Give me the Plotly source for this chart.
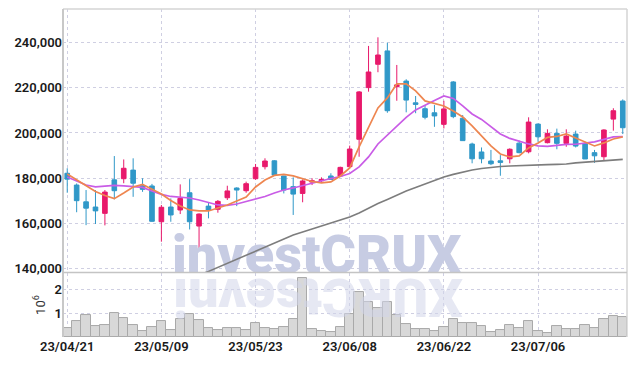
import plotly.graph_objects as go

dates = ["23/04/21","23/04/24","23/04/25","23/04/26","23/04/27","23/04/28",
         "23/05/02","23/05/03","23/05/04","23/05/08","23/05/09",
         "23/05/10","23/05/11","23/05/12","23/05/15","23/05/16","23/05/17","23/05/18","23/05/19","23/05/22","23/05/23",
         "23/05/24","23/05/25","23/05/26","23/05/30","23/05/31",
         "23/06/01","23/06/02","23/06/05","23/06/07","23/06/08",
         "23/06/09","23/06/12","23/06/13","23/06/14","23/06/15","23/06/16","23/06/19","23/06/20","23/06/21","23/06/22",
         "23/06/23","23/06/26","23/06/27","23/06/28","23/06/29","23/06/30",
         "23/07/03","23/07/04","23/07/05","23/07/06",
         "23/07/07","23/07/10","23/07/11","23/07/12","23/07/13","23/07/14","23/07/17","23/07/18","23/07/19"]

open_ = [182200,177000,169600,167300,164500,179300,179800,183600,176700,176600,
         160800,167300,166000,173600,158900,167700,166300,171400,175700,174500,
         179800,185100,187700,181000,176300,173300,178300,178900,181000,181000,
         185100,197200,220000,230300,236200,220400,222900,213300,210700,208900,
         203800,222500,206500,195100,191600,187600,187700,188600,195500,191700,
         203900,195700,199800,195400,199500,195400,191300,189500,206100,214100]
high = [184400,177700,174800,174800,174800,189800,188300,188800,180000,177500,
        168200,171100,177300,179600,164500,169500,170400,176700,176000,178500,
        186300,188800,188000,181000,180400,179500,180000,180400,182200,185100,
        194400,218500,238400,242200,239800,230000,223700,216300,212300,212300,
        214200,222900,207900,195700,193600,192500,190200,193200,196600,206900,
        204200,201600,201900,201600,201000,196100,192500,201600,210900,214800]
low = [173600,165000,159300,159800,159200,170700,177800,171800,174000,160700,
       152000,160800,164200,157400,149100,162300,164800,170400,167700,173600,
       179300,183900,181000,173300,163800,169400,177000,178000,179300,180700,
       184400,189500,218200,226800,208900,214200,209100,208700,206000,202700,
       202000,206500,196600,186600,186600,185800,181100,186600,191000,191000,
       196100,195400,192800,193900,193600,188500,186800,187600,201000,199500]
close = [179600,170100,166800,165600,173900,174500,184400,177800,175100,161000,
         167200,163800,171100,160800,164200,165800,169800,174400,174800,177600,
         184800,187600,181400,174800,173000,178800,178900,179500,179500,184800,
         192900,218100,226900,234400,209800,221200,214500,212600,206900,207500,
         210600,207200,196600,188600,188600,186400,187000,192800,191300,204800,
         198300,199800,195400,198600,194200,188500,189900,201300,209800,202300]

ma_short = [181900,179250,176600,174170,172400,171000,173510,176160,177260,175280,
            173070,170200,167770,166000,165560,165560,166890,168210,169980,171740,
            176160,179250,181240,181680,181020,179910,178590,177920,178370,181020,
            184550,193820,202650,211040,215450,221630,221630,218540,214130,213020,
            211920,209710,207060,203090,198670,194260,190730,189400,189850,193380,
            195590,198010,198450,199560,197790,196030,194260,195590,197350,198230]
ma_mid = [180570,178810,177040,176160,176380,176820,176600,176380,175940,174390,
          172850,171960,171740,171300,170420,169320,168210,167990,168650,169760,
          170860,171960,173510,174830,175720,176820,177920,178810,179910,180790,
          182120,184990,189400,195140,199120,203310,206840,210150,212360,214350,
          216340,215230,211920,208390,205960,202650,199560,197570,196250,195140,
          194260,194040,194480,194920,195010,195360,196030,197130,198230,198370]
ma_long = [None,None,None,None,None,None,None,None,None,None,
           None,None,None,135000,137300,138900,140660,142340,144100,146100,
           147860,149620,151390,153150,154920,156250,157570,158900,160220,161320,
           162870,164640,166840,168830,170600,172580,174350,175890,177440,178760,
           180530,181720,182740,183620,184280,184800,185160,185380,185600,185740,
           185830,186000,186140,186270,186800,187150,187460,187730,187950,188340]

volume_m = [0.36,0.67,0.92,0.46,0.50,0.99,0.80,0.50,0.25,0.43,
            0.67,0.29,0.74,0.96,0.71,0.36,0.29,0.36,0.36,0.29,
            0.57,0.36,0.33,0.40,0.74,2.45,0.33,0.26,0.22,0.40,
            0.96,1.89,1.44,1.19,1.44,0.92,0.54,0.33,0.32,0.26,
            0.43,0.74,0.57,0.57,0.46,0.22,0.29,0.49,0.36,0.68,
            0.26,0.15,0.46,0.32,0.32,0.49,0.36,0.74,0.875,0.82]

price_ticks = [140000, 160000, 180000, 200000, 220000, 240000]
vol_ticks = [1, 2]
date_tick_idx = [0, 10, 20, 30, 40, 50]

x = list(range(len(dates)))

PINK = "#e8196b"
BLUE = "#3098c8"
GRID = "#cfcfe2"
FONT = "Roboto"

fig = go.Figure()

# watermark (under the data)
fig.add_trace(go.Scatter(
    x=[26.5], y=[144300], mode="text", text=["investCRUX"],
    textfont=dict(family=FONT, size=54, color="#c7cce3", weight=900),
    hoverinfo="skip", showlegend=False, xaxis="x", yaxis="y"))

fig.add_trace(go.Bar(
    x=x, y=volume_m, xaxis="x", yaxis="y2",
    marker=dict(color="#d8d8d8", line=dict(color="#a9a9a9", width=1)),
    showlegend=False, hoverinfo="skip"))

fig.add_trace(go.Candlestick(
    x=x, open=open_, high=high, low=low, close=close,
    increasing=dict(line=dict(color=PINK, width=1), fillcolor=PINK),
    decreasing=dict(line=dict(color=BLUE, width=1), fillcolor=BLUE),
    whiskerwidth=0, showlegend=False, xaxis="x", yaxis="y"))

fig.add_trace(go.Scatter(x=x, y=ma_long, mode="lines",
                         line=dict(color="#7d7d7d", width=1.6),
                         showlegend=False, xaxis="x", yaxis="y"))
fig.add_trace(go.Scatter(x=x, y=ma_mid, mode="lines",
                         line=dict(color="#c95ce6", width=1.7),
                         showlegend=False, xaxis="x", yaxis="y"))
fig.add_trace(go.Scatter(x=x, y=ma_short, mode="lines",
                         line=dict(color="#ee8650", width=1.7),
                         showlegend=False, xaxis="x", yaxis="y"))

tickfont = dict(family=FONT, size=13, color="#1a1a1a", weight=600)

fig.update_layout(
    width=637, height=366,
    margin=dict(l=63, r=10, t=9, b=29),
    paper_bgcolor="white", plot_bgcolor="white",
    hovermode=False, showlegend=False, bargap=0,
    xaxis=dict(
        range=[-0.45, 59.45], anchor="y2",
        tickvals=[x[i] for i in date_tick_idx],
        ticktext=[dates[i] for i in date_tick_idx],
        showgrid=True, gridcolor=GRID, griddash="dot", gridwidth=1,
        zeroline=False, showline=False, ticks="",
        tickfont=tickfont, rangeslider=dict(visible=False),
    ),
    yaxis=dict(
        domain=[0.198, 1], range=[138600, 254700],
        tickvals=price_ticks, tickformat=",d",
        showgrid=True, gridcolor=GRID, griddash="dot", gridwidth=1,
        zeroline=False, showline=False, ticks="", tickfont=tickfont,
    ),
    yaxis2=dict(
        domain=[0, 0.195], range=[0, 2.667],
        tickvals=vol_ticks,
        showgrid=True, gridcolor=GRID, griddash="dot", gridwidth=1,
        zeroline=False, showline=False, ticks="", tickfont=tickfont,
        title=dict(text="10<sup>6</sup>", font=dict(family=FONT, size=13, color="#333"),
                   standoff=6),
    ),
)

fig.add_shape(type="line", xref="paper", yref="paper", x0=0, x1=1, y0=1, y1=1,
              line=dict(color="#d4d4d4", width=1.5))
fig.add_shape(type="line", xref="paper", yref="paper", x0=1, x1=1, y0=0, y1=1,
              line=dict(color="#d4d4d4", width=1.5))
fig.add_shape(type="line", xref="paper", yref="paper", x0=0, x1=0, y0=0, y1=1,
              line=dict(color="#c8c8c8", width=2))
fig.add_shape(type="line", xref="paper", yref="paper", x0=0, x1=1, y0=0.1965, y1=0.1965,
              line=dict(color="#c4c4c4", width=1.5))

# mirrored reflection of the watermark, below the panel separator
fig.add_annotation(xref="paper", yref="paper", x=0.451, y=0.02,
                   text="XURCtsevni", textangle=180, showarrow=False,
                   font=dict(family=FONT, size=54, color="rgba(210,214,234,0.55)", weight=900))

fig.write_html("out.html")
